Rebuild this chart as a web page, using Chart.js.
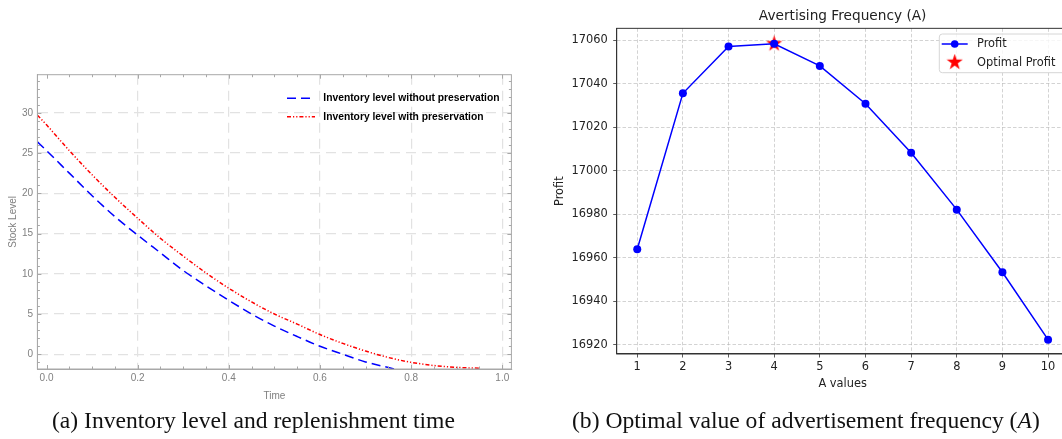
<!DOCTYPE html>
<html>
<head>
<meta charset="utf-8">
<script src="https://cdn.jsdelivr.net/npm/chart.js@4.4.0/dist/chart.umd.min.js"></script>
<style>
  html, body { margin: 0; padding: 0; background: #fff; }
  body { width: 1062px; height: 439px; position: relative; overflow: hidden; }
  #wrapA { position: absolute; left: 0; top: 0; width: 540px; height: 410px; }
  #wrapB { position: absolute; left: 540px; top: 0; width: 540px; height: 400px; }
  .caption { position: absolute; font-family: "Liberation Serif", serif; font-size: 23.6px; color: #111; white-space: nowrap; }
  #capA { left: 52px; top: 407px; }
  #capB { left: 572px; top: 407px; }
</style>
</head>
<body>
<div id="wrapA"><canvas id="inventory"></canvas></div>
<div id="wrapB"><canvas id="advertising"></canvas></div>
<div class="caption" id="capA">(a) Inventory level and replenishment time</div>
<div class="caption" id="capB">(b) Optimal value of advertisement frequency (<i>A</i>)</div>
<script>
//-----(a) Stock level over time
const timeWithout = [-0.02, 0, 0.05, 0.1, 0.15, 0.2, 0.25, 0.3, 0.35, 0.4, 0.45, 0.5, 0.55, 0.6, 0.65, 0.7, 0.75, 0.8]
const stockWithout = [26.4, 25.3, 22.5, 19.7, 17.1, 14.8, 12.6, 10.4, 8.5, 6.7, 5.0, 3.5, 2.2, 1.0, 0.0, -0.95, -1.65, -2.3]
const timeWith = [-0.02, 0, 0.05, 0.1, 0.15, 0.2, 0.25, 0.3, 0.35, 0.4, 0.45, 0.5, 0.55, 0.6, 0.65, 0.7, 0.75, 0.8, 0.85, 0.9, 0.95]
const stockWith = [29.7, 28.5, 25.3, 22.3, 19.5, 16.9, 14.4, 12.2, 10.1, 8.2, 6.5, 5.0, 3.75, 2.45, 1.35, 0.4, -0.4, -1.0, -1.4, -1.63, -1.74]

//-----(b) Profit vs advertising frequency
const aValues = [1, 2, 3, 4, 5, 6, 7, 8, 9, 10]
const profit = [16963.9, 17035.6, 17057.2, 17058.4, 17048.2, 17030.8, 17008.3, 16982.1, 16953.3, 16922.3]
const optimalA = [4]
const optimalProfit = [17058.4]

const toPoints = (xs, ys) => xs.map((x, i) => ({ x: x, y: ys[i] }))

//star marker like matplotlib '*'
function makeStar(size, color) {
    const c = document.createElement('canvas')
    c.width = size
    c.height = size
    const g = c.getContext('2d')
    const r = size / 2, ri = r * 0.382
    g.beginPath()
    for (let i = 0; i < 10; i++) {
        const rad = i % 2 === 0 ? r : ri
        const ang = -Math.PI / 2 + i * Math.PI / 5
        g.lineTo(r + rad * Math.cos(ang), r + rad * Math.sin(ang))
    }
    g.closePath()
    g.fillStyle = color
    g.fill()
    return c
}
const starImg = makeStar(17, '#ff0000')

//frame on all four sides
const frame = {
    id: 'frame',
    afterDatasetsDraw(chart, args, opts) {
        const { ctx, chartArea: a } = chart
        ctx.save()
        ctx.strokeStyle = opts.color
        ctx.lineWidth = opts.width
        ctx.strokeRect(a.left, a.top, a.right - a.left, a.bottom - a.top)
        ctx.restore()
    }
}

//Mathematica style ticks: inside the frame, on every side, with minor ones
const frameTicks = {
    id: 'frameTicks',
    afterDatasetsDraw(chart, args, opts) {
        const { ctx, chartArea: a, scales } = chart
        ctx.save()
        ctx.strokeStyle = opts.color
        ctx.lineWidth = 1
        ctx.beginPath()
        const side = (scale, minor, isX) => {
            const start = Math.ceil(scale.min / minor - 1e-9)
            for (let k = start; k * minor <= scale.max + 1e-9; k++) {
                const v = k * minor
                const major = Math.abs(v / opts[isX ? 'xMajor' : 'yMajor'] - Math.round(v / opts[isX ? 'xMajor' : 'yMajor'])) < 1e-6
                const len = major ? opts.major : opts.minor
                const p = Math.round(scale.getPixelForValue(v)) + 0.5
                if (isX) {
                    ctx.moveTo(p, a.bottom); ctx.lineTo(p, a.bottom - len)
                    ctx.moveTo(p, a.top); ctx.lineTo(p, a.top + len)
                } else {
                    ctx.moveTo(a.left, p); ctx.lineTo(a.left + len, p)
                    ctx.moveTo(a.right, p); ctx.lineTo(a.right - len, p)
                }
            }
        }
        side(scales.x, opts.xMinor, true)
        side(scales.y, opts.yMinor, false)
        ctx.stroke()
        ctx.restore()
    }
}

//-----GRÁFICO A
const inventoryLegend = {
    id: 'inventoryLegend',
    afterDraw(chart) {
        const ctx = chart.ctx
        ctx.save()
        ctx.font = 'bold 10.3px "Liberation Sans", Arial, sans-serif'
        ctx.textBaseline = 'middle'
        chart.data.datasets.forEach((ds, i) => {
            const y = 98.3 + i * 18.4
            ctx.strokeStyle = ds.borderColor
            ctx.lineWidth = ds.borderWidth
            ctx.setLineDash(ds.borderDash)
            ctx.beginPath()
            ctx.moveTo(287, y)
            ctx.lineTo(315, y)
            ctx.stroke()
            ctx.setLineDash([])
            ctx.fillStyle = '#000'
            ctx.fillText(ds.label, 323.3, y)
        })
        ctx.restore()
    }
}

const grayTick = { size: 10, family: '"Liberation Sans", Arial, sans-serif' }

new Chart(document.getElementById('inventory'), {
    type: 'line',
    data: {
        datasets: [{
            label: 'Inventory level without preservation',
            data: toPoints(timeWithout, stockWithout),
            borderColor: '#0000ff',
            borderWidth: 1.5,
            borderDash: [9, 5],
            pointRadius: 0,
            fill: false,
            cubicInterpolationMode: 'monotone'
        }, {
            label: 'Inventory level with preservation',
            data: toPoints(timeWith, stockWith),
            borderColor: '#ff0000',
            borderWidth: 1.5,
            borderDash: [4, 2, 1.2, 2, 1.2, 2],
            pointRadius: 0,
            fill: false,
            cubicInterpolationMode: 'monotone'
        }]
    },
    options: {
        responsive: true,
        maintainAspectRatio: false,
        animation: false,
        events: [],
        layout: { padding: { top: 74.7, right: 28.6, left: 0, bottom: 0 } },
        plugins: {
            legend: { display: false },
            tooltip: { enabled: false },
            frame: { color: '#a8a8a8', width: 1 },
            frameTicks: { color: '#a8a8a8', major: 4, minor: 2.5, xMajor: 0.2, xMinor: 0.05, yMajor: 5, yMinor: 1 }
        },
        scales: {
            x: {
                type: 'linear',
                min: -0.02,
                max: 1.02,
                afterFit: s => { s.height = 41 },
                ticks: {
                    stepSize: 0.2,
                    includeBounds: false,
                    padding: 3,
                    color: '#808080',
                    font: grayTick,
                    maxRotation: 0,
                    callback: v => v.toFixed(1)
                },
                grid: {
                    color: c => (c.tick && c.tick.value === 0) ? 'rgba(0,0,0,0)' : '#e2e2e2',
                    lineWidth: 1.2,
                    drawTicks: false
                },
                border: { color: '#a8a8a8', width: 1, dash: [10, 6] },
                title: { display: true, text: 'Time', color: '#808080', font: grayTick, padding: { top: 0, bottom: 8 } }
            },
            y: {
                min: -1.83,
                max: 34.73,
                afterFit: s => { s.width = 37.4 },
                ticks: {
                    stepSize: 5,
                    includeBounds: false,
                    padding: 4.4,
                    color: '#808080',
                    font: grayTick
                },
                grid: { color: '#e2e2e2', lineWidth: 1.2, drawTicks: false },
                border: { color: '#a8a8a8', width: 1, dash: [10, 6] },
                title: { display: true, text: 'Stock Level', color: '#808080', font: grayTick, padding: { top: 7.5, bottom: 0 } }
            }
        }
    },
    plugins: [frame, frameTicks, inventoryLegend]
})

//-----GRÁFICO B
const profitLegend = {
    id: 'profitLegend',
    afterDraw(chart) {
        const ctx = chart.ctx
        const ds = chart.data.datasets
        ctx.save()
        ctx.beginPath()
        ctx.roundRect(399.3, 34, 127, 38.7, 3)
        ctx.fillStyle = 'rgba(255,255,255,0.8)'
        ctx.fill()
        ctx.strokeStyle = '#d6d6d6'
        ctx.lineWidth = 1
        ctx.stroke()
        //Profit
        ctx.strokeStyle = ds[0].borderColor
        ctx.lineWidth = ds[0].borderWidth
        ctx.beginPath()
        ctx.moveTo(401.7, 44)
        ctx.lineTo(427.7, 44)
        ctx.stroke()
        ctx.fillStyle = ds[0].pointBackgroundColor
        ctx.beginPath()
        ctx.arc(414.7, 44, 3.8, 0, Math.PI * 2)
        ctx.fill()
        //Optimal Profit
        ctx.drawImage(starImg, 414.7 - 8.5, 62.3 - 8.5)
        ctx.font = '11.4px "DejaVu Sans", sans-serif'
        ctx.fillStyle = '#222'
        ctx.textBaseline = 'middle'
        ctx.fillText(ds[0].label, 437, 44.5)
        ctx.fillText(ds[1].label, 437, 62.8)
        ctx.restore()
    }
}

const mplFont = { size: 11.4, family: '"DejaVu Sans", sans-serif' }
const mplGrid = { color: 'rgba(176,176,176,0.7)', lineWidth: 0.8, tickLength: 3.5, tickColor: '#333', tickWidth: 0.8, tickBorderDash: [] }

new Chart(document.getElementById('advertising'), {
    type: 'line',
    data: {
        datasets: [{
            label: 'Profit',
            data: toPoints(aValues, profit),
            borderColor: '#0000ff',
            borderWidth: 1.5,
            pointRadius: 4,
            pointBackgroundColor: '#0000ff',
            pointBorderWidth: 0,
            tension: 0,
            order: 0
        }, {
            label: 'Optimal Profit',
            data: toPoints(optimalA, optimalProfit),
            showLine: false,
            pointStyle: starImg,
            pointRadius: 8.5,
            order: 1
        }]
    },
    options: {
        responsive: true,
        maintainAspectRatio: false,
        animation: false,
        events: [],
        layout: { padding: { top: 0, right: 11.4, left: 0, bottom: 0 } },
        plugins: {
            legend: { display: false },
            tooltip: { enabled: false },
            title: {
                display: true,
                text: 'Avertising Frequency (A)',
                fullSize: false,
                color: '#222',
                font: { size: 13.7, family: '"DejaVu Sans", sans-serif', weight: 'normal' },
                padding: { top: 8.5, bottom: 3.4 }
            },
            frame: { color: '#333', width: 1 }
        },
        scales: {
            x: {
                type: 'linear',
                min: 0.55,
                max: 10.45,
                afterFit: s => { s.height = 46 },
                ticks: { stepSize: 1, includeBounds: false, padding: 2.5, color: '#222', font: mplFont, maxRotation: 0 },
                grid: mplGrid,
                border: { color: '#333', width: 1, dash: [3.5, 2] },
                title: { display: true, text: 'A values', color: '#222', font: mplFont, padding: { top: 0, bottom: 9.2 } }
            },
            y: {
                min: 16915.7,
                max: 17065.5,
                afterFit: s => { s.width = 76.7 },
                ticks: { stepSize: 20, includeBounds: false, padding: 5.5, color: '#222', font: mplFont, callback: v => String(v) },
                grid: mplGrid,
                border: { color: '#333', width: 1, dash: [3.5, 2] },
                title: { display: true, text: 'Profit', color: '#222', font: mplFont, padding: { top: 13.2, bottom: 0 } }
            }
        }
    },
    plugins: [frame, profitLegend]
})
</script>
</body>
</html>
